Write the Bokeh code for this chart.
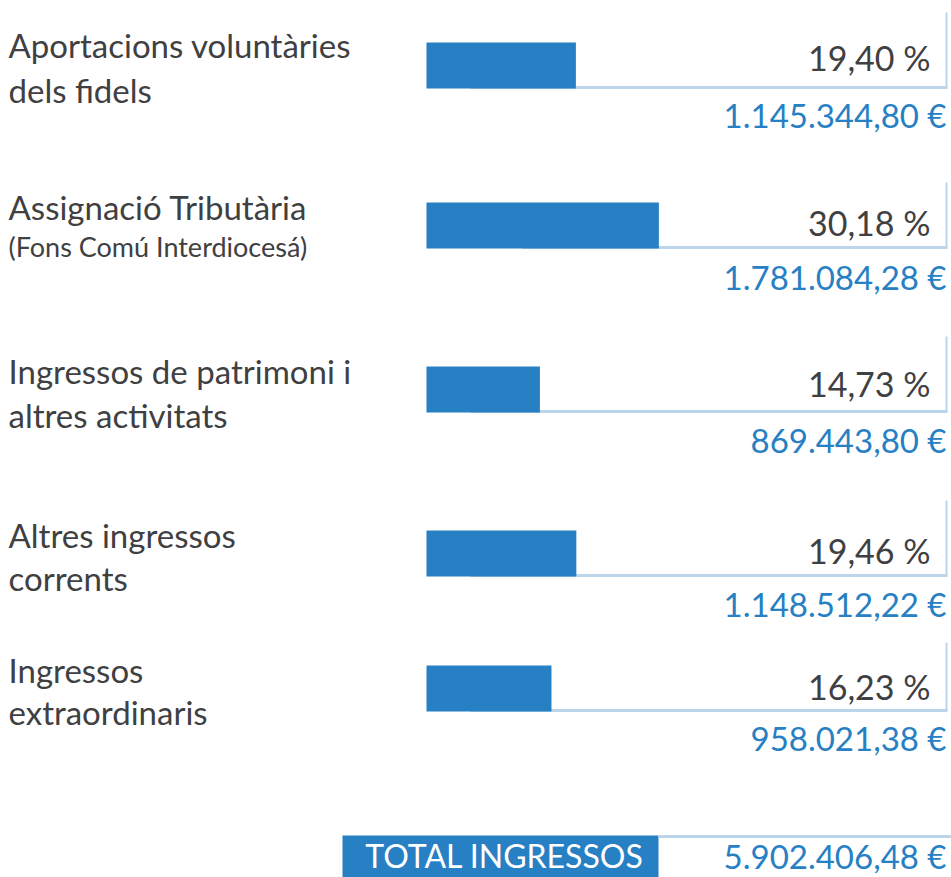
from bokeh.plotting import figure
from bokeh.models import Range1d, ColumnDataSource
from bokeh.core.properties import value
from bokeh.embed import file_html
from bokeh.resources import INLINE

# ---- data ----
labels_line1 = ["Aportacions voluntàries", "Assignació Tributària", "Ingressos de patrimoni i", "Altres ingressos", "Ingressos"]
labels_line2 = ["dels fidels", "(Fons Comú Interdiocesá)", "altres activitats", "corrents", "extraordinaris"]
percents = [19.40, 30.18, 14.73, 19.46, 16.23]
percent_labels = ["19,40 %", "30,18 %", "14,73 %", "19,46 %", "16,23 %"]
amount_labels = ["1.145.344,80 €", "1.781.084,28 €", "869.443,80 €", "1.148.512,22 €", "958.021,38 €"]
total_label = "TOTAL INGRESSOS"
total_amount = "5.902.406,48 €"

# ---- layout (pixels) ----
W, H = 951, 877
X0 = 426.0          # pixel where 0 % starts
K = 7.7             # pixels per percent
def px(x):
    return (x - X0) / K

bar_top = [42, 202, 366, 530, 665]
bar_h = 46
vline_top = [12, 182, 336, 500, 642]
uline_start = [470, 522, 470, 470, 470]
line1_y = [44, 206, 370, 534, 669]
line2_y = [89, 246, 414, 577, 711]
line2_size = ["33px", "27px", "33px", "33px", "33px"]
pct_y = [57, 222, 383, 550, 686]
amt_y = [114, 276, 439, 603, 737]

BLUE = "#2780c3"
LIGHT = "#bcd5ea"
GRAY = "#3f4042"
FONT = "Lato"

p = figure(width=W, height=H, x_range=Range1d(px(0), px(W)), y_range=Range1d(H, 0),
           output_backend="svg", toolbar_location=None, min_border=0,
           outline_line_color=None, background_fill_color="white")
p.axis.visible = False
p.grid.visible = False

# underlines and right vertical lines
ul_y = [t + bar_h - 1 for t in bar_top]
p.segment(x0=[px(s) for s in uline_start], x1=[px(947)] * 5, y0=ul_y, y1=ul_y,
          line_color=LIGHT, line_width=3)
p.segment(x0=[px(946)] * 5, x1=[px(946)] * 5, y0=vline_top, y1=ul_y,
          line_color=LIGHT, line_width=2)

# bars
src = ColumnDataSource(dict(y=[t + bar_h / 2 for t in bar_top], right=percents))
p.hbar(y="y", left=0, right="right", height=bar_h, source=src, fill_color=BLUE, line_color=None)

# labels
p.text(x=[px(8)] * 5, y=line1_y, text=labels_line1, text_font=value(FONT),
       text_font_size="33px", text_color=GRAY, text_baseline="alphabetic")
for i in range(5):
    p.text(x=[px(8)], y=[line2_y[i]], text=[labels_line2[i]], text_font=value(FONT),
           text_font_size=line2_size[i], text_color=GRAY, text_baseline="alphabetic")

p.text(x=[px(930)] * 5, y=pct_y, text=percent_labels, text_font=value(FONT),
       text_font_size="34px", text_color=GRAY, text_align="right", text_baseline="alphabetic")
p.text(x=[px(946)] * 5, y=amt_y, text=amount_labels, text_font=value(FONT),
       text_font_size="33px", text_color=BLUE, text_align="right", text_baseline="alphabetic")

# total
p.quad(left=[px(342)], right=[px(658)], top=[835], bottom=[H + 5], fill_color=BLUE, line_color=None)
p.segment(x0=[px(658)], x1=[px(W)], y0=[836], y1=[836], line_color=LIGHT, line_width=3)
p.text(x=[px(504)], y=[855], text=[total_label], text_font=value(FONT), text_font_size="32px",
       text_color="white", text_align="center", text_baseline="alphabetic")
p.text(x=[px(946)], y=[855], text=[total_amount], text_font=value(FONT), text_font_size="33px",
       text_color=BLUE, text_align="right", text_baseline="alphabetic")

open("out.html", "w").write(file_html(p, INLINE))
